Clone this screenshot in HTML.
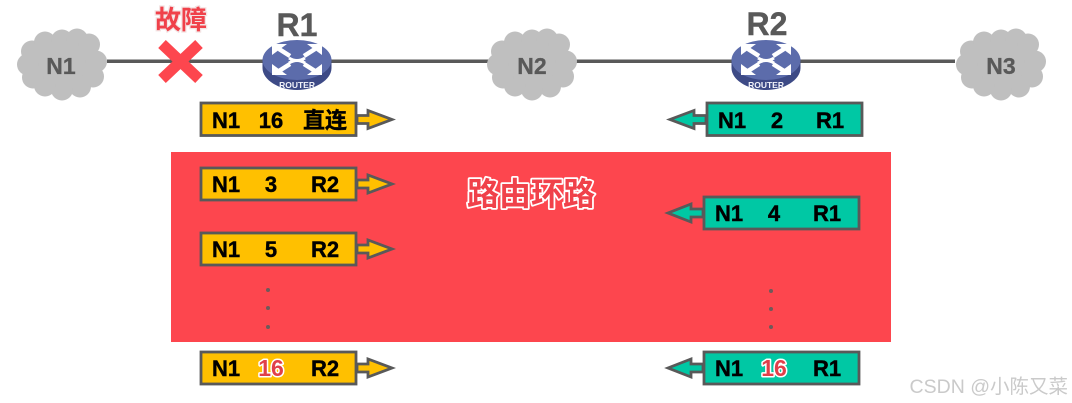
<!DOCTYPE html>
<html><head><meta charset="utf-8"><style>
html,body{margin:0;padding:0;background:#fff;width:1072px;height:403px;overflow:hidden}
svg{display:block}
text{font-family:"Liberation Sans","Noto Sans CJK SC",sans-serif;font-weight:700}
.b{font-size:22px;fill:#000;stroke:#000;stroke-width:.4px;text-anchor:middle}
.c{font-size:23px;fill:#595959;stroke:#595959;stroke-width:.3px;text-anchor:middle}
.r{font-size:32px;fill:#595959;stroke:#595959;stroke-width:.4px;text-anchor:middle}
.red{font-size:23px;fill:#e0404a;stroke:#fff;stroke-width:3px;paint-order:stroke;text-anchor:middle;stroke-linejoin:round}
.y{fill:#ffc000;stroke:#595959;stroke-width:2.800}
.g{fill:#00c8a4;stroke:#595959;stroke-width:2.800}
</style></head><body>
<svg width="1072" height="403" viewBox="0 0 1072 403" xmlns="http://www.w3.org/2000/svg" style="filter:blur(.3px)">
<defs>
<g id="cloud" fill="#bfbfbf">
<ellipse cx="0" cy="0" rx="36" ry="27"/>
<circle cx="-34" cy="0" r="11"/><circle cx="-30" cy="-13" r="11"/><circle cx="-17" cy="-22" r="11"/>
<circle cx="0" cy="-24" r="11"/><circle cx="15" cy="-25" r="11"/><circle cx="27" cy="-20" r="11"/>
<circle cx="34" cy="-3" r="11"/><circle cx="31" cy="12" r="11"/><circle cx="18" cy="22" r="11"/>
<circle cx="0" cy="25" r="11"/><circle cx="-17" cy="21" r="11"/><circle cx="-29" cy="13" r="11"/>
</g>
<g id="router">
<path d="M-34.500 -5 V4 C-34.500 16 -18 26 0 26 C18 26 34.500 16 34.500 4 V-5Z" fill="#3d4a86"/>
<ellipse cx="0" cy="-4" rx="34.500" ry="20" fill="#5c6cab"/>
<g fill="none" stroke="#fff" stroke-width="4.500">
<path d="M-18 -15 L-7 -8 M18 -15 L7 -8 M-18 7 L-7 0 M18 7 L7 0"/>
<path d="M-8 -6 Q0 -1 8 -6 M-8 -1 Q0 -6 8 -1" stroke-width="3"/>
</g>
<path d="M-25 -20 H-10 L-25 -9Z M25 -20 H10 L25 -9Z M-25 11 H-10 L-25 0Z M25 11 H10 L25 0Z" fill="#fff"/>
<text x="0" y="24" text-anchor="middle" style="font-size:8.500px;fill:#f2f3fa">ROUTER</text>
</g>
</defs>

<rect width="1072" height="403" fill="#fff"/>
<rect x="107" y="59.500" width="848" height="3.500" fill="#595959"/>

<use href="#cloud" x="62" y="64.500"/>
<use href="#cloud" x="532" y="64.500"/>
<use href="#cloud" x="1001" y="64.500"/>
<text class="c" x="61" y="74">N1</text>
<text class="c" x="532" y="74">N2</text>
<text class="c" x="1001" y="74">N3</text>

<use href="#router" x="297" y="64"/>
<use href="#router" x="766" y="64"/>
<text class="r" x="297" y="36">R1</text>
<text class="r" x="767" y="35">R2</text>

<path d="M162 44 L199 79 M199 44 L162 79" stroke="#fd464e" stroke-width="11"/>
<text x="181" y="29" text-anchor="middle" style="font-size:26px;fill:#f0414a;stroke:#f3e3e3;stroke-width:2.500px;paint-order:stroke">故障</text>

<rect x="171" y="152" width="720" height="190" fill="#fd464e"/>
<text x="531" y="205" text-anchor="middle" style="font-size:32px;fill:#f0414a;stroke:#fff;stroke-width:3.500px;paint-order:stroke;stroke-linejoin:round">路由环路</text>

<!-- top row -->
<path class="y" d="M357 115.500 H368 V110.500 L392 119.500 L368 128.500 V123.500 H357Z"/>
<rect class="y" x="201" y="103" width="155" height="32.500"/>
<text class="b" x="226" y="128">N1</text><text class="b" x="271" y="128">16</text><text class="b" x="325" y="128">直连</text>

<path class="g" d="M706 115.500 H694 V110.500 L670 119.500 L694 128.500 V123.500 H706Z"/>
<rect class="g" x="707" y="103" width="155" height="32.500"/>
<text class="b" x="732" y="128">N1</text><text class="b" x="777" y="128">2</text><text class="b" x="830" y="128">R1</text>

<!-- left rows -->
<path class="y" d="M357 180 H368 V175 L392 184 L368 193 V188 H357Z"/>
<rect class="y" x="201" y="168" width="155" height="32"/>
<text class="b" x="226" y="192">N1</text><text class="b" x="271" y="192">3</text><text class="b" x="325" y="192">R2</text>

<path class="y" d="M357 245 H368 V240 L392 249 L368 258 V253 H357Z"/>
<rect class="y" x="201" y="233" width="155" height="32"/>
<text class="b" x="226" y="257">N1</text><text class="b" x="271" y="257">5</text><text class="b" x="325" y="257">R2</text>

<path class="y" d="M357 364 H368 V359 L392 368 L368 377 V372 H357Z"/>
<rect class="y" x="201" y="352" width="155" height="32"/>
<text class="b" x="226" y="376">N1</text><text class="red" x="271" y="376">16</text><text class="b" x="325" y="376">R2</text>

<!-- right rows -->
<path class="g" d="M703 209 H691 V204 L668 213 L691 222 V217 H703Z"/>
<rect class="g" x="704" y="197" width="155" height="32"/>
<text class="b" x="729" y="221">N1</text><text class="b" x="774" y="221">4</text><text class="b" x="827" y="221">R1</text>

<path class="g" d="M703 364 H691 V359 L668 368 L691 377 V372 H703Z"/>
<rect class="g" x="704" y="352" width="155" height="32"/>
<text class="b" x="729" y="376">N1</text><text class="red" x="774" y="376">16</text><text class="b" x="827" y="376">R1</text>

<g fill="#6e5a5a">
<circle cx="268" cy="290" r="2"/><circle cx="268" cy="308" r="2"/><circle cx="268" cy="327" r="2"/>
<circle cx="771" cy="291" r="2"/><circle cx="771" cy="309" r="2"/><circle cx="771" cy="327" r="2"/>
</g>

<text x="1068" y="393" text-anchor="end" style="font-size:19.500px;font-weight:400;fill:#cacaca">CSDN @小陈又菜</text>
</svg>
</body></html>
